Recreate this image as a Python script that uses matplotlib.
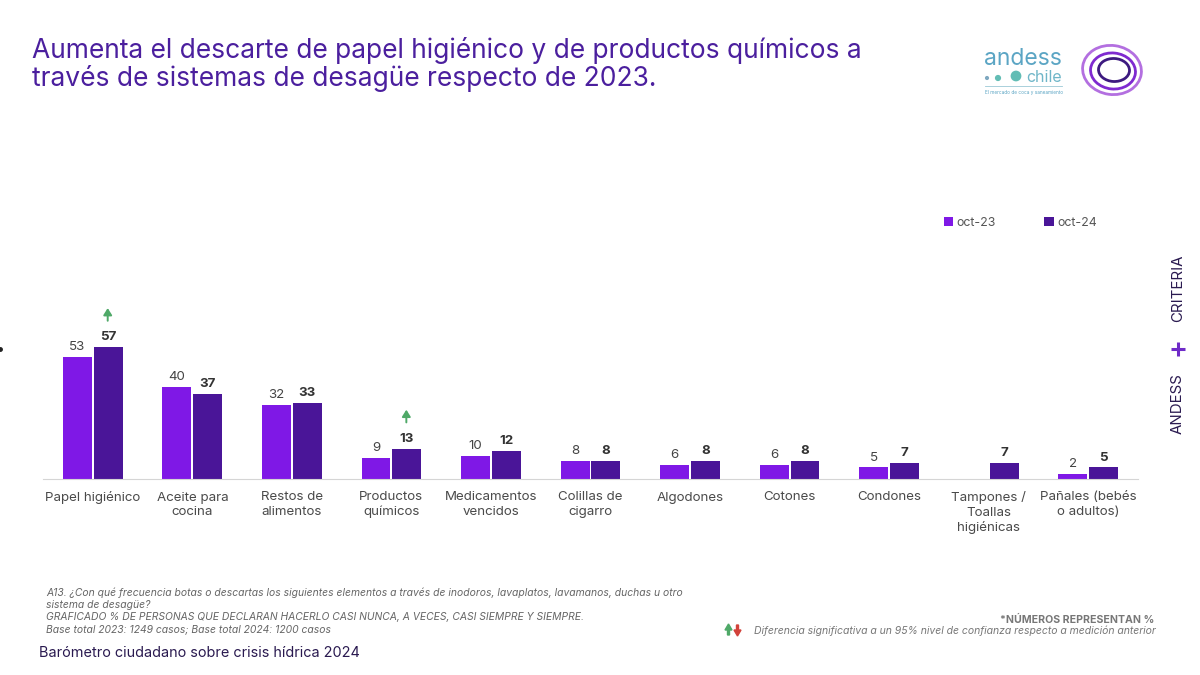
import numpy as np
import matplotlib
matplotlib.use('Agg')
import matplotlib.pyplot as plt
from matplotlib.patches import Ellipse, Polygon

plt.rcParams['font.family'] = ['Inter', 'DejaVu Sans']

categories = ['Papel higiénico', 'Aceite para\ncocina', 'Restos de\nalimentos',
              'Productos\nquímicos', 'Medicamentos\nvencidos', 'Colillas de\ncigarro',
              'Algodones', 'Cotones', 'Condones', 'Tampones /\nToallas\nhigiénicas',
              'Pañales (bebés\no adultos)']
oct_23 = [53, 40, 32, 9, 10, 8, 6, 6, 5, np.nan, 2]
oct_24 = [57, 37, 33, 13, 12, 8, 8, 8, 7, 7, 5]
up_arrows = ['Papel higiénico', 'Productos\nquímicos']

title = ('Aumenta el descarte de papel higiénico y de productos químicos a\n'
         'través de sistemas de desagüe respecto de 2023.')
notes = ['A13. ¿Con qué frecuencia botas o descartas los siguientes elementos a través de inodoros, lavaplatos, lavamanos, duchas u otro',
         'sistema de desagüe?',
         'GRAFICADO % DE PERSONAS QUE DECLARAN HACERLO CASI NUNCA, A VECES, CASI SIEMPRE Y SIEMPRE.',
         'Base total 2023: 1249 casos; Base total 2024: 1200 casos']

LIGHT = '#7F18E6'
DARK = '#4A1598'
TITLE_COL = '#4B1F9E'
W, H = 1200, 675

fig = plt.figure(figsize=(12, 6.75), dpi=100, facecolor='white')

# overlay in pixel coords for the slide furniture
bg = fig.add_axes([0, 0, 1, 1])
bg.set_xlim(0, W)
bg.set_ylim(H, 0)
bg.axis('off')

# main chart, baseline at y=479
left, right, top, bottom = 43, 1138, 290, 479
ax = fig.add_axes([left / W, 1 - bottom / H, (right - left) / W, (bottom - top) / H])
ax.patch.set_alpha(0)
x = np.arange(len(categories))
w = 0.29
off = 0.155
b1 = ax.bar(x - off, oct_23, w, color=LIGHT, label='oct-23')
b2 = ax.bar(x + off, oct_24, w, color=DARK, label='oct-24')
ax.set_xlim(-0.5, 10.5)
ax.set_ylim(0, (bottom - top) / 2.31)
ax.set_yticks([])
ax.set_xticks(x)
ax.set_xticklabels(categories, fontsize=9.6, color='#4A4A4A', linespacing=1.25)
ax.tick_params(axis='x', length=0, pad=9)
for s in ['top', 'left', 'right']:
    ax.spines[s].set_visible(False)
ax.spines['bottom'].set_color('#D5D5D5')

for i in x:
    if not np.isnan(oct_23[i]):
        ax.annotate(str(oct_23[i]), (i - off, oct_23[i]), xytext=(0, 5), textcoords='offset points',
                    ha='center', fontsize=9.6, color='#444444')
    ax.annotate(str(oct_24[i]), (i + off, oct_24[i]), xytext=(0, 5), textcoords='offset points',
                ha='center', fontsize=9.6, fontweight='bold', color='#333333')
    if categories[i] in up_arrows:
        ax.annotate('', xy=(i + off - 0.005, oct_24[i] + 17), xytext=(i + off - 0.005, oct_24[i] + 11.5),
                    annotation_clip=False,
                    arrowprops=dict(arrowstyle='-|>,head_width=0.25,head_length=0.4', color='#4FA968', lw=1.4,
                                    shrinkA=0, shrinkB=0))

fig.legend(handles=[b1, b2], loc='upper left', bbox_to_anchor=(940 / W, 1 - 213 / H), ncol=2,
           frameon=False, fontsize=8.9, labelcolor='#555555', handlelength=0.75, handleheight=0.75,
           handletextpad=0.3, columnspacing=3.9, borderpad=0.3, borderaxespad=0)

# title
bg.text(32, 64.5, title, fontsize=19.0, color=TITLE_COL, va='center', ha='left', linespacing=1.07)

# notes
for y, line in zip([592.5, 605, 617, 629.5], notes):
    bg.text(46, y, line, fontsize=7.45, style='italic', color='#666666', va='center')
bg.text(39, 653, 'Barómetro ciudadano sobre crisis hídrica 2024', fontsize=10.4, color='#2A1A50', va='center')
bg.text(1154, 619.5, '*NÚMEROS REPRESENTAN %', fontsize=7.6, fontweight='bold', color='#777777', va='center', ha='right')
bg.text(1156, 630.5, 'Diferencia significativa a un 95% nivel de confianza respecto a medición anterior',
        fontsize=7.5, style='italic', color='#777777', va='center', ha='right')
bg.add_patch(Polygon([(725, 630), (728.5, 624), (732, 630), (729.5, 630), (729.5, 635), (727.5, 635), (727.5, 630)], color='#4FA968'))
bg.add_patch(Polygon([(734, 630), (737.5, 636), (741, 630), (738.5, 630), (738.5, 625), (736.5, 625), (736.5, 630)], color='#D2423A'))

# side label
bg.text(1178, 404, 'ANDESS', rotation=90, fontsize=10.8, color='#2A1A50', va='center', ha='center')
bg.text(1178, 288, 'CRITERIA', rotation=90, fontsize=10.8, color='#2A1A50', va='center', ha='center')
bg.plot([1171, 1185], [349, 349], color='#6F2BC8', lw=2.2, solid_capstyle='butt')
bg.plot([1178, 1178], [342, 356], color='#6F2BC8', lw=2.2, solid_capstyle='butt')

# andess chile logo
bg.text(984, 59, 'andess', fontsize=16.5, color='#5BA5C4', va='center', ha='left')
bg.text(1026, 77, 'chile', fontsize=11.5, color='#6FB6C8', va='center', ha='left')
bg.scatter([987, 998, 1016], [78, 78, 76], s=[9, 20, 60], color=['#7FA8C0', '#63BDB5', '#63BDB5'], linewidths=0)
bg.text(985, 92.5, 'El mercado de coca y saneamiento', fontsize=3.4, color='#5BA5C4', va='center')
bg.plot([985, 1062], [86, 86], color='#9BC9D6', lw=0.6)

# criteria rings
bg.add_patch(Ellipse((1112, 70), 59, 49, angle=8, fill=False, ec='#B36FE0', lw=2))
bg.add_patch(Ellipse((1113, 71), 45, 36, angle=6, fill=False, ec='#7F2AD0', lw=2))
bg.add_patch(Ellipse((1114, 70), 31, 23, angle=3, fill=False, ec='#3D1A80', lw=2))

# stray mark on the left edge
bg.plot([0], [349], marker='o', ms=2.5, color='#222222', clip_on=False)

fig.savefig('out.png', dpi=100)
